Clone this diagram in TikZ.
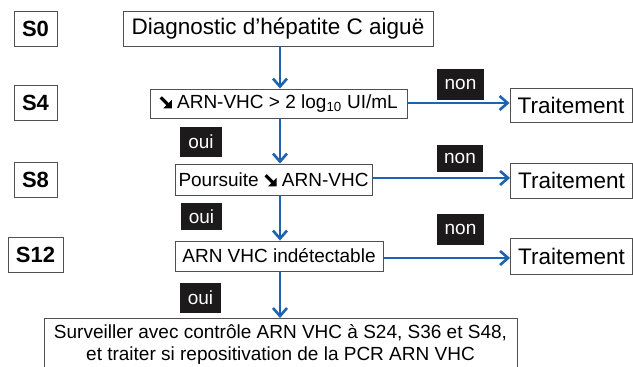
\documentclass[tikz,border=0pt]{standalone}
\usepackage{fontspec}
\setmainfont{Liberation Sans}
\usetikzlibrary{arrows.meta}
\definecolor{flowblue}{HTML}{1F63B0}
\definecolor{boxgray}{HTML}{505050}
\definecolor{tagblack}{HTML}{1C1A1A}
\newcommand{\sedown}{\tikz[x=1pt,y=1pt,baseline=0pt]{%
  \fill[black] (12,0) -- (12,8.5) -- (3.5,0) -- cycle;
  \draw[black, line width=3.2pt] (1,11) -- (8.5,3.5);}}
\tikzset{
  stagebox/.style={draw=boxgray, line width=0.9pt, inner sep=0pt, minimum height=35pt,
    font=\fontsize{22}{24}\selectfont\bfseries},
  bigbox/.style={draw=boxgray, line width=0.9pt, inner sep=0pt,
    font=\fontsize{22.5}{24}\selectfont},
  midbox/.style={draw=boxgray, line width=0.9pt, inner sep=0pt,
    font=\fontsize{19}{21}\selectfont},
  tag/.style={fill=tagblack, text=white, inner sep=0pt, minimum width=44pt,
    font=\fontsize{19}{21}\selectfont},
  flow/.style={draw=flowblue, line width=2.6pt,
    -{Straight Barb[length=8pt,width=14pt,line width=2.6pt]}},
}
\begin{document}
\begin{tikzpicture}[x=1pt,y=-1pt]
\useasboundingbox (0,0) rectangle (633,367);
\fill[white] (0,0) rectangle (633,367);
\begin{scope}
\clip (0,0) rectangle (633,367);
% stage labels
\node[stagebox, minimum width=43pt] (s0) at (35.5,28.5) {S0};
\node[stagebox, minimum width=43pt] (s4) at (35.5,103) {S4};
\node[stagebox, minimum width=43pt] (s8) at (35.5,180) {S8};
\node[stagebox, minimum width=55pt] (s12) at (35.5,255) {S12};
% main column
\coordinate (ax) at (280,0);
\node[bigbox, minimum width=310pt, minimum height=35pt] (diag) at (278,28.5) {Diagnostic d’hépatite C aiguë};
\node[midbox, minimum width=257pt, minimum height=29pt] (arn) at (278.5,103.5) {\sedown\ ARN-VHC > 2 log\textsubscript{10} UI/mL};
\node[midbox, minimum width=197pt, minimum height=31pt] (pours) at (273.5,179.5) {Poursuite \sedown\ ARN-VHC};
\node[midbox, minimum width=208pt, minimum height=30pt] (ind) at (279,256) {ARN VHC indétectable};
\node[midbox, minimum width=473pt, minimum height=56pt, anchor=north west] (surv) at (44,318) {};
\node[font=\fontsize{19}{22}\selectfont, align=center, anchor=north] (survtxt) at (280.5,321) {Surveiller avec contrôle ARN VHC à S24, S36 et S48,\\et traiter si repositivation de la PCR ARN VHC};
% treatment boxes
\node[bigbox, minimum width=122pt, minimum height=34pt] (t1) at (571,105) {Traitement};
\node[bigbox, minimum width=122pt, minimum height=35pt] (t2) at (571.5,180.5) {Traitement};
\node[bigbox, minimum width=122pt, minimum height=36pt] (t3) at (571.5,256) {Traitement};
% tags
\node[tag, minimum width=47pt, minimum height=31pt] (non1) at (460.5,84.5) {non};
\node[tag, minimum width=46pt, minimum height=27pt] (non2) at (460,158) {non};
\node[tag, minimum width=47pt, minimum height=31pt] (non3) at (460.5,229.5) {non};
\node[tag, minimum width=42pt, minimum height=30pt] (oui1) at (201,142) {oui};
\node[tag, minimum width=41pt, minimum height=27pt] (oui2) at (201.5,216.5) {oui};
\node[tag, minimum width=41pt, minimum height=30pt] (oui3) at (200.5,298) {oui};
% vertical flow
\draw[flow] (diag.south -| ax) -- (arn.north -| ax);
\draw[flow] (arn.south -| ax) -- (pours.north -| ax);
\draw[flow] (pours.south -| ax) -- (ind.north -| ax);
\draw[flow] (ind.south -| ax) -- (surv.north -| ax);
% horizontal flow
\draw[flow] (arn.east |- 0,103) -- (t1.west |- 0,103);
\draw[flow] (pours.east |- 0,178) -- (t2.west |- 0,178);
\draw[flow] (ind.east |- 0,258) -- (t3.west |- 0,258);
\end{scope}
\end{tikzpicture}
\end{document}
